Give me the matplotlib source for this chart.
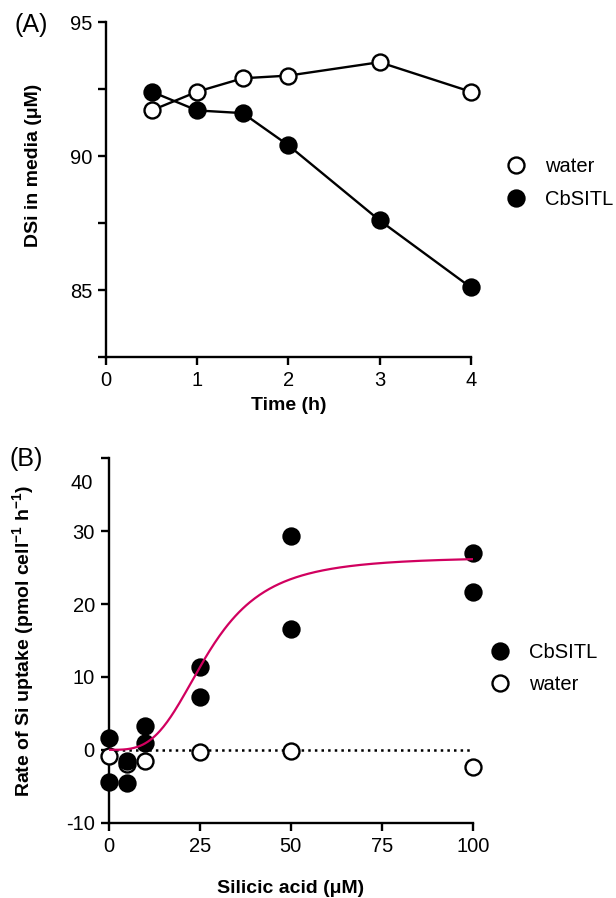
import numpy as np
import matplotlib
matplotlib.use('Agg')
import matplotlib.pyplot as plt

plt.rcParams['font.family'] = ['Liberation Sans', 'DejaVu Sans']
plt.rcParams['font.size'] = 14.5
plt.rcParams['mathtext.default'] = 'regular'

# ---------------------------------------------- panel A data
time_h = [0.5, 1, 1.5, 2, 3, 4]
dsi_water = [91.7, 92.4, 92.9, 93.0, 93.5, 92.4]
dsi_cbsitl = [92.4, 91.7, 91.6, 90.4, 87.6, 85.1]

# ---------------------------------------------- panel B data
si_cbsitl = [0, 0, 5, 5, 10, 10, 25, 25, 50, 50, 100, 100]
rate_cbsitl = [1.6, -4.4, -1.5, -4.5, 3.3, 0.9, 11.3, 7.3, 29.3, 16.6, 27.0, 21.6]
si_water = [0, 5, 10, 25, 50, 100]
rate_water = [-0.8, -1.9, -1.5, -0.3, -0.1, -2.4]

# Hill fit for CbSITL uptake
vmax, k_half, hill_n = 26.5, 27.3, 3.35
fit_color = '#D1005F'

lw = 1.7
ms = 11.5
tick_fs = 14.5
label_fs = 14

fig = plt.figure(figsize=(6.16, 8.98), dpi=100)

# ---------------------------------------------- panel A
axA = fig.add_axes([106 / 616, 1 - 357 / 898, 364.7 / 616, 335 / 898])
axA.plot(time_h, dsi_water, '-', color='black', lw=lw, zorder=2)
axA.plot(time_h, dsi_cbsitl, '-', color='black', lw=lw, zorder=2)
axA.plot(time_h, dsi_water, 'o', ls='none', ms=ms, mfc='white',
         mew=lw, mec='black', label='water', clip_on=False, zorder=3)
axA.plot(time_h, dsi_cbsitl, 'o', ls='none', ms=ms, mfc='black',
         mew=lw, mec='black', label='CbSITL', clip_on=False, zorder=3)
axA.set_xlim(0, 4)
axA.set_ylim(82.5, 95)
axA.set_xticks([0, 1, 2, 3, 4])
axA.set_yticks([82.5, 85, 87.5, 90, 92.5, 95])
axA.set_yticklabels(['', '85', '', '90', '', '95'])
axA.set_xlabel('Time (h)', fontweight='bold', fontsize=label_fs)
axA.set_ylabel('DSi in media (μM)', fontweight='bold', fontsize=label_fs)
axA.xaxis.set_label_coords(0.5, -0.119)
axA.yaxis.set_label_coords(-0.175, 0.573)
axA.legend(loc='upper left', bbox_to_anchor=(506 / 616, 1 - 157 / 898),
           bbox_transform=fig.transFigure, frameon=False, borderpad=0,
           borderaxespad=0, handlelength=1.0, handletextpad=0.95,
           labelspacing=0.7, fontsize=tick_fs)
fig.text(14 / 616, 1 - 25 / 898, '(A)', fontsize=18, va='center')

# ---------------------------------------------- panel B
axB = fig.add_axes([108.7 / 616, 1 - 822.7 / 898, 364 / 616, 364.4 / 898])
xs = np.linspace(0, 100, 300)
fit = vmax * xs ** hill_n / (k_half ** hill_n + xs ** hill_n)
axB.plot([0, 100], [0, 0], ':', color='black', lw=1.8, zorder=2)
axB.plot(xs, fit, '-', color=fit_color, lw=1.6, zorder=5)
axB.plot(si_water, rate_water, 'o', ls='none', ms=ms, mfc='white', mew=lw,
         mec='black', label='water', clip_on=False, zorder=3)
axB.plot(si_cbsitl, rate_cbsitl, 'o', ls='none', ms=ms, mfc='black', mew=lw,
         mec='black', label='CbSITL', clip_on=False, zorder=4)
axB.set_xlim(0, 100)
axB.set_ylim(-10, 40)
axB.set_xticks([0, 25, 50, 75, 100])
axB.set_yticks([-10, 0, 10, 20, 30, 40])
axB.set_yticklabels(['-10', '0', '10', '20', '30', ''])
axB.text(-0.0425, 36.6, '40', transform=axB.get_yaxis_transform(),
         ha='right', va='center', fontsize=tick_fs)
axB.set_xlabel('Silicic acid (μM)', fontweight='bold', fontsize=label_fs)
axB.set_ylabel('Rate of Si uptake (pmol cell$^{-1}$ h$^{-1}$)',
               fontweight='bold', fontsize=label_fs)
axB.xaxis.set_label_coords(0.5, -0.157)
axB.yaxis.set_label_coords(-0.2, 0.499)
handles, labels = axB.get_legend_handles_labels()
axB.legend(handles[::-1], labels[::-1], loc='upper left',
           bbox_to_anchor=(490 / 616, 1 - 643 / 898),
           bbox_transform=fig.transFigure, frameon=False, borderpad=0,
           borderaxespad=0, handlelength=1.0, handletextpad=0.95,
           labelspacing=0.65, fontsize=tick_fs)
fig.text(10 / 616, 1 - 459 / 898, '(B)', fontsize=18, va='center')

for ax in (axA, axB):
    for side in ('top', 'right'):
        ax.spines[side].set_visible(False)
    for side in ('left', 'bottom'):
        ax.spines[side].set_linewidth(lw)
    ax.tick_params(direction='out', length=6, width=lw, labelsize=tick_fs, pad=4)

fig.savefig('out.png', dpi=100)
